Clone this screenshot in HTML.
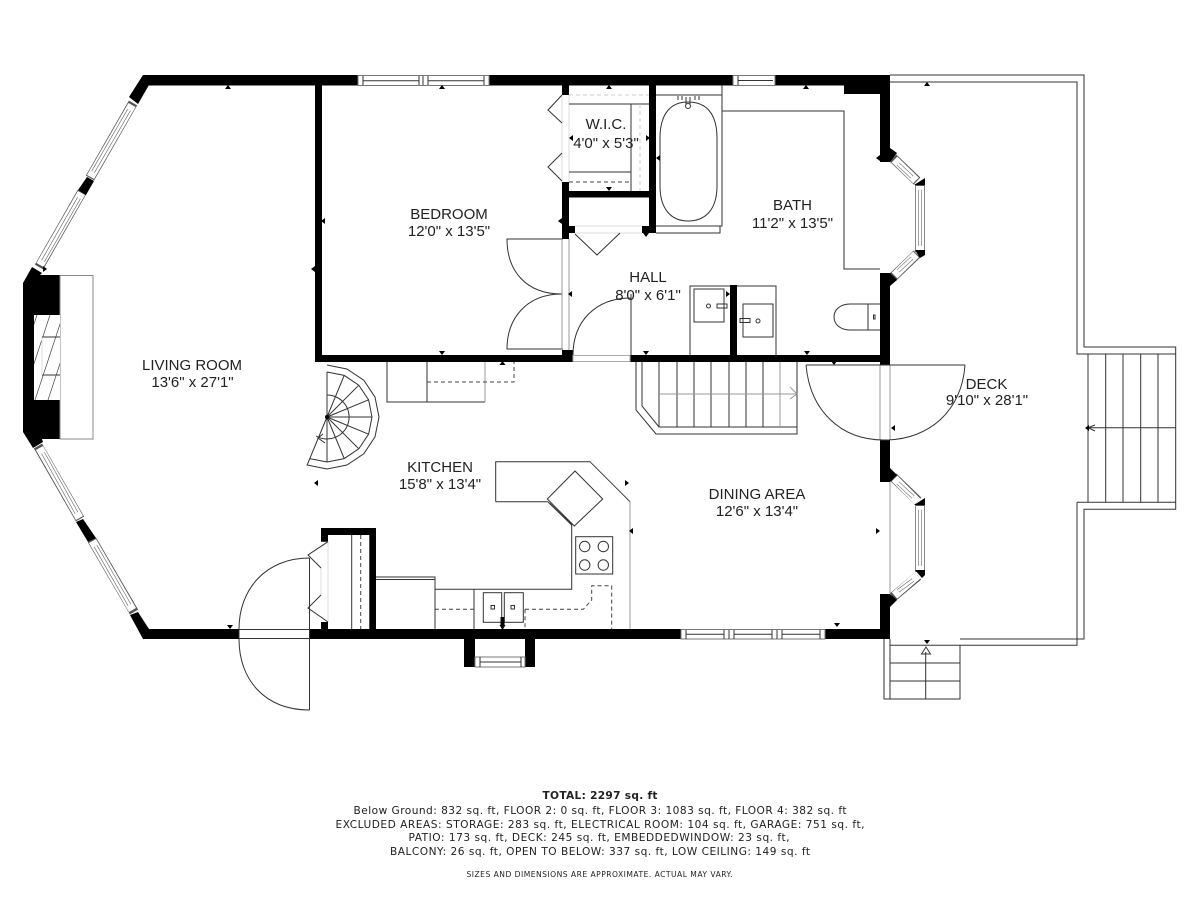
<!DOCTYPE html>
<html><head><meta charset="utf-8"><style>
html,body{margin:0;padding:0;background:#fff}
svg{display:block}
.l{fill:none;stroke:#333;stroke-width:1}
.t{fill:none;stroke:#444;stroke-width:.7}
.g{fill:none;stroke:#999;stroke-width:1}
.lg{fill:none;stroke:#ddd;stroke-width:1}
.d{fill:none;stroke:#444;stroke-width:1;stroke-dasharray:4 3}
.dg{fill:none;stroke:#ccc;stroke-width:1;stroke-dasharray:4 3}
.k{fill:#000;stroke:none}
.w1{stroke:#555;stroke-width:9.600;fill:none}
.w2{stroke:#fff;stroke-width:8.200;fill:none}
.w3{stroke:#666;stroke-width:3.800;fill:none}
.w4{stroke:#fff;stroke-width:2.600;fill:none}
text{font-family:"Liberation Sans",sans-serif;font-size:15px;fill:#222;text-anchor:middle}
.f{font-family:"DejaVu Sans",sans-serif;font-size:10.6px;fill:#222}
</style></head><body>
<svg width="1200" height="900" viewBox="0 0 1200 900" xmlns="http://www.w3.org/2000/svg">
<rect width="1200" height="900" fill="#fff"/>

<!-- deck -->
<path class="l" d="M890 75H1084V347H1175.700V509.300H1084V639H960M890 82H1077V354H1175.700M1088 354V502M1105.700 354V502M1123 354V502M1140.700 354V502M1158 354V502M1077 502.300H1175.700M1077 502.300V645.300H890"/>
<path class="l" d="M1088 427.700H1175.700M1095 425L1088 427.700L1095 431"/>
<path class="l" d="M884 639V699H960V645M890 639V699M890 663H960M890 681H960M925.700 652V699M921.500 654L926 647L930.500 654Z"/>

<!-- diagonal windows (drawn below the walls) -->
<path class="w1" d="M133 103L90 178M82 192L39 267M38 446L80 519M92 540L134 612M893 158L917 181M920 184V252M917 254L893 277M893 477L918 501M920 504V572M918 576L893 597"/>
<path class="w2" d="M132 105L90.500 177M81.500 193L40 265M39.500 448L79.500 518M92.500 541L132.500 610M894.500 159.500L916 180.500M920 186V250M916 254.500L894.500 275.500M894.500 478.500L917.500 501.500M920 506V570M917.500 575.500L894.500 595.500"/>
<path class="w3" d="M129 110L93 172M79 198L43 261M43 453L76.500 513M95.500 546L129.500 605M898 164L912 177M920 190V246M912 258L898 271M898 483L913 497M920 510V566M913 580L898 591"/>
<path class="w4" d="M129 110L93 172M79 198L43 261M43 453L76.500 513M95.500 546L129.500 605M898 164L912 177M920 190V246M912 258L898 271M898 483L913 497M920 510V566M913 580L898 591"/>

<!-- main walls -->
<path class="k" d="M143 75H890V94H844V85.500H149L143 75Z"/>
<path class="k" d="M143 75L149 85L138 104L129 97Z"/>
<path class="k" d="M87 177L94 181L86 195L78 190Z"/>
<path class="k" d="M32 267L42 273L40 275H60V439H42L43 442L33 448L23 432V283Z"/>
<path class="k" d="M76 522L83 519L96 538L88 542Z"/>
<path class="k" d="M130 615L138 612L149 629H239V639H143Z"/>
<path class="k" d="M310 629H681V639H535V667H525V639H475V667H464V639H310Z"/>
<path class="k" d="M825 629H890V639H825Z"/>
<path class="k" d="M880 85H890V148L897 153L890 162H880Z"/>
<path class="k" d="M880 273H890L897 280L890 286V365H880Z"/>
<path class="k" d="M880 440H890V468L897 475L890 482H880Z"/>
<path class="k" d="M880 594H890L897 600L890 607V639H880Z"/>
<path class="k" d="M914 185L925 178V185ZM915 250H925V255L920 258ZM914 505L925 498V505ZM915 570H925V575L922 578Z"/>
<!-- interior walls -->
<rect class="k" x="315" y="85" width="7" height="277"/>
<rect class="k" x="315" y="355" width="258" height="7"/>
<rect class="k" x="630" y="355" width="250" height="7"/>
<rect class="k" x="562" y="85" width="7" height="10"/>
<rect class="k" x="562" y="182" width="7" height="57"/>
<rect class="k" x="562" y="350" width="11" height="12"/>
<rect class="k" x="569" y="226" width="6" height="7"/>
<rect class="k" x="569" y="191" width="82" height="6.500"/>
<rect class="k" x="649" y="85" width="7" height="148"/>
<rect class="k" x="642" y="226" width="7" height="7"/>
<rect class="k" x="730" y="285" width="7" height="70"/>
<path class="k" d="M321 528H376V629H369.300V535H328V541.700H321ZM321 622H328V629H321Z"/>

<!-- straight windows -->
<rect x="358" y="75.500" width="131" height="10" fill="#fff" stroke="#777"/>
<path class="l" d="M363 80.700H419M428 80.700H484M363 76V85M419 76V85M423 76V85M428 76V85M484 76V85" stroke="#555"/>
<rect x="733" y="75.500" width="42" height="10" fill="#fff" stroke="#777"/>
<path class="l" d="M738 80.500H773M738 76V85"/>
<rect x="681" y="629.500" width="144" height="9.500" fill="#fff" stroke="#777"/>
<path class="l" d="M686 634.200H724M734 634.200H772M782 634.200H820M686 630V639M724 630V639M729 630V639M734 630V639M772 630V639M777 630V639M782 630V639M820 630V639"/>
<rect x="475" y="657" width="50" height="10" fill="#fff" stroke="#777"/>
<path class="l" d="M480 662H521M480 657V667M521 657V667"/>

<!-- fireplace -->
<rect x="60" y="275.500" width="33" height="163.500" fill="#fff" stroke="#888"/>
<rect x="34" y="315" width="26" height="85" fill="#fff"/>
<clipPath id="cp"><rect x="34" y="315" width="26" height="85"/></clipPath>
<g clip-path="url(#cp)"><path class="t" d="M9 400L37 315M22 400L50 315M35 400L63 315M48 400L76 315"/></g>
<path class="l" d="M42 337H60M42 375H60"/>
<path class="lg" d="M42 337V375"/>

<!-- bedroom doors & closet -->
<path class="lg" d="M562 95V182M569 95V182"/>
<path class="l" d="M562 95L548 110L562 123M562 153L548 167L562 181"/>
<path class="dg" d="M569 95H649"/>
<path class="l" d="M569 104H649M631 104V191M569 172H631"/>
<path class="d" d="M569 182H631"/>
<path class="dg" d="M640 104V191"/>
<path class="lg" d="M575 226H642M575 233H642"/>
<path class="l" d="M575 234L597 255L620 233"/>
<path class="l" d="M563 239H507C507 270 525 294 562 294C525 294 507 320 507 349H563"/>
<path class="g" d="M562 239V350M569 239V350"/>
<path class="l" d="M631 294V355M631 298C595 298 573 322 573 355"/>
<rect x="573" y="355.500" width="57" height="6" fill="#fff" stroke="#aaa"/>

<!-- bath -->
<path class="l" d="M656 95H722M722 85V226H656M656 233H720V226"/>
<path class="l" d="M688 102C705 102 717 112 717 138V186C717 210 705 221 688 221C672 221 660 210 660 186V138C660 112 672 102 688 102Z"/>
<path class="l" d="M686 97V105M690 97V105"/>
<circle cx="688" cy="106" r="2.500" class="l"/>
<path class="l" d="M678 96V100M682 96V100M695 96V100M699 96V100"/>
<path class="l" d="M722 111H844V269H880"/>
<path class="l" d="M690 355V286H730M737 286H776V355"/>
<rect class="l" x="694" y="289" width="30" height="33"/>
<circle class="l" cx="708.500" cy="306" r="2"/>
<rect class="l" x="717" y="304" width="10" height="4"/>
<rect class="l" x="743" y="304" width="30" height="33"/>
<circle class="l" cx="758" cy="321" r="2"/>
<rect class="l" x="740" y="318.500" width="10" height="4"/>
<path class="l" d="M880 304H868V330H880M868 304H850C840 304 834 310 834 317C834 324 840 330 850 330H868"/>
<rect class="l" x="873.500" y="315" width="1.500" height="4"/>

<!-- door east -->
<path class="g" d="M880 365V440M890 365V440M890 482V594"/>
<path class="l" d="M806 365H965M806 365C810 410 840 440 884 440C930 440 962 410 965 365"/>

<!-- straight stairs -->
<path class="l" d="M636 362V410L656 434H797V362M642 362V406L659 427H797M659 362V427M677 362V427M694 362V427M711 362V427M729 362V427M746 362V427M763 362V427"/>
<path class="g" d="M780 362V427M659 394H797M790 387L797 394L790 399"/>

<!-- under-bedroom cabinet -->
<path class="l" d="M387 362V402H485M427 362V402"/>
<path class="g" d="M485 362V402"/>
<path class="d" d="M427 382H514V362"/>

<!-- spiral stair -->
<path class="l" d="M327 372L344.200 375.400L358.800 385.200L368.600 399.800L372 417L368.600 434.200L358.800 448.800L344.200 458.600L327 462L309.800 458.600"/>
<path class="l" d="M327 365L346.900 369L363.800 380.200L375 397.100L379 417L375 436.900L363.800 453.800L346.900 465L327 469L307.100 465L309.800 458.600"/>
<path class="l" d="M327 417L327 372M327 417L344.200 375.400M327 417L358.800 385.200M327 417L368.600 399.800M327 417H372M327 417L368.600 434.200M327 417L358.800 448.800M327 417L344.200 458.600M327 417V462M327 417L309.800 458.600"/>
<path class="l" d="M327 395A22 22 0 1 1 316 436M323 434L318 438L325 443"/>
<circle cx="327" cy="417" r="2" fill="#000"/>

<!-- kitchen -->
<path class="l" d="M495.700 501.700V461.700H590L630 501.700"/>
<path class="g" d="M630 501.700V629"/>
<path class="l" d="M495.700 501.700H547.700L571.700 525V589.300H435"/>
<path class="l" d="M575 471L602.700 499L574.300 526L547.300 499Z M549.500 503L572 525"/>
<rect class="l" x="575.700" y="536.700" width="37" height="37.300"/>
<circle class="l" cx="584.700" cy="546.500" r="5.200"/>
<circle class="l" cx="603.300" cy="546.500" r="5.200"/>
<circle class="l" cx="584.700" cy="565" r="5.200"/>
<circle class="l" cx="603.300" cy="565" r="5.200"/>
<path class="l" d="M474 589V629"/>
<path class="d" d="M435 609.300H474M525 609.300H583.300L591.700 600V585.700H611.700V629M525 609.300V629"/>
<rect class="l" x="483.300" y="592.700" width="18.400" height="29.600"/>
<rect class="l" x="504.300" y="592.700" width="19" height="29.600"/>
<rect class="l" x="491" y="605.500" width="3.500" height="3.500"/>
<rect class="l" x="511" y="605.500" width="3.500" height="3.500"/>
<path class="k" d="M500.500 617H504.500V625H505.500L502.500 630L499.500 625H500.500Z"/>
<path class="l" d="M376 577H435V629M376 579.500H435"/>

<!-- closet entry & front door -->
<path class="lg" d="M328 541V622M321 568V595"/>
<path class="l" d="M351.700 535V629"/>
<path class="d" d="M360.700 535V629"/>
<path class="l" d="M328 541.700L308 555L321 568M321 595L308 608L328 622"/>
<path class="l" d="M309.500 558V710M309.500 558C265 558 239 590 239 629V639C239 680 265 710 309.500 710M239 629.500H310M239 638.500H310"/>

<!-- dimension ticks -->
<path class="k" d="M228 85l3 4h-6zM227 625h6l-3 4zM442 85l3 4h-6zM439 351h6l-3 4zM806 85l3 4h-6zM609 85l3 4h-6zM606 187h6l-3 4zM643 351h6l-3 4zM804 351h6l-3 4zM643 233h6l-3 4zM834 365l3-4h-6zM837 627l3-4h-6l3 4zM927 644l3-4h-6l3 4zM927 82l3 4h-6zM499.500 365h6l-3-4z"/>
<path class="k" d="M311 269l4-3v6zM321 221l4-3v6zM47 269l-4-3v6zM558 221l4-3v6zM568 294l4-3v6zM656 158l4-3v6zM569 138l4-3v6zM876 158l4-3v6zM314 483l4-3v6zM629 531l4-3v6zM891 428l4-3v6zM1085 428l4-3v6z"/>
<path class="k" d="M646 138l4 0l-4-3zM646 138l4 0l-4 3zM726 294l4 0l-4-3zM726 294l4 0l-4 3zM625 483l4 0l-4-3zM625 483l4 0l-4 3zM876 531l4 0l-4-3zM876 531l4 0l-4 3z"/>

<!-- labels -->
<text x="192" y="370">LIVING ROOM</text>
<text x="192.500" y="387">13'6" x 27'1"</text>
<text x="449" y="219">BEDROOM</text>
<text x="449" y="236">12'0" x 13'5"</text>
<text x="606" y="129">W.I.C.</text>
<text x="606" y="148">4'0" x 5'3"</text>
<text x="648" y="282">HALL</text>
<text x="648" y="300">8'0" x 6'1"</text>
<text x="792.500" y="210">BATH</text>
<text x="792.500" y="228">11'2" x 13'5"</text>
<text x="440" y="472">KITCHEN</text>
<text x="440" y="489">15'8" x 13'4"</text>
<text x="757" y="499">DINING AREA</text>
<text x="757" y="516">12'6" x 13'4"</text>
<text x="986.500" y="389">DECK</text>
<text x="987" y="405">9'10" x 28'1"</text>

<text class="f" x="600" y="799" textLength="115" lengthAdjust="spacing" style="font-weight:bold;font-size:10.600px">TOTAL: 2297 sq. ft</text>
<text class="f" x="600" y="814" textLength="493" lengthAdjust="spacing" style="font-size:10.600px">Below Ground: 832 sq. ft, FLOOR 2: 0 sq. ft, FLOOR 3: 1083 sq. ft, FLOOR 4: 382 sq. ft</text>
<text class="f" x="600" y="828" textLength="529" lengthAdjust="spacing" style="font-size:10.600px">EXCLUDED AREAS: STORAGE: 283 sq. ft, ELECTRICAL ROOM: 104 sq. ft, GARAGE: 751 sq. ft,</text>
<text class="f" x="599" y="841" textLength="381" lengthAdjust="spacing" style="font-size:10.600px">PATIO: 173 sq. ft, DECK: 245 sq. ft, EMBEDDEDWINDOW: 23 sq. ft,</text>
<text class="f" x="600" y="855" textLength="420" lengthAdjust="spacing" style="font-size:10.600px">BALCONY: 26 sq. ft, OPEN TO BELOW: 337 sq. ft, LOW CEILING: 149 sq. ft</text>
<text class="f" x="599.500" y="877" textLength="266" lengthAdjust="spacing" style="font-size:7.600px">SIZES AND DIMENSIONS ARE APPROXIMATE. ACTUAL MAY VARY.</text>
</svg>
</body></html>
